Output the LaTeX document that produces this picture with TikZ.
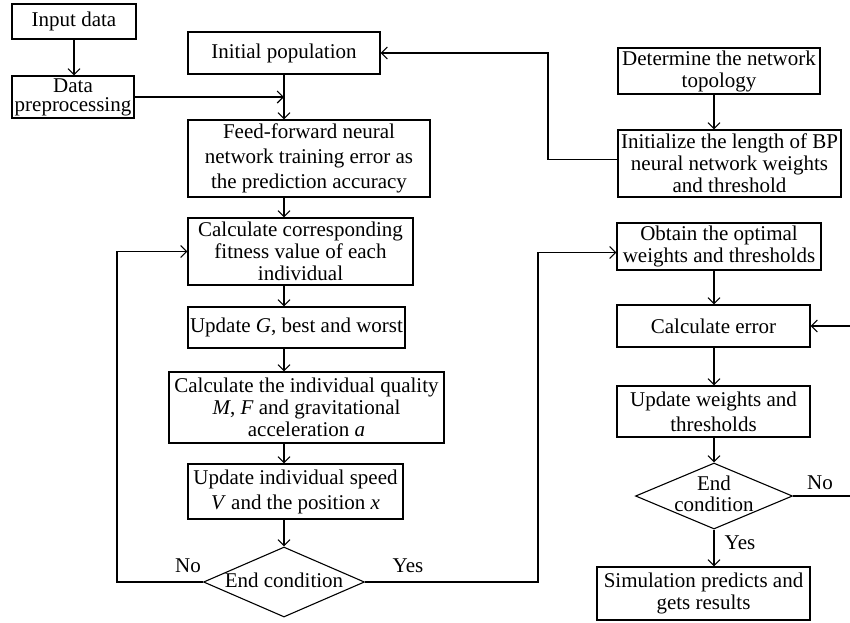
\documentclass[tikz,border=0pt]{standalone}
\usepackage{fontspec}
\setmainfont{Liberation Serif}
\usetikzlibrary{arrows.meta,shapes.geometric}
\begin{document}
\begin{tikzpicture}[x=1pt,y=-1pt,
  font=\fontsize{21}{22}\selectfont,
  line width=1.1pt,
  box/.style={draw, rectangle, inner sep=0pt, align=center},
  dia/.style={draw, diamond, inner sep=0pt},
  arr/.style={-{Straight Barb[length=6pt,width=12pt,line width=1.1pt]}},
  lbl/.style={inner sep=0pt}]
\useasboundingbox (0,0) rectangle (850,622);
% left column
\node[box, minimum width=124, minimum height=35] (in) at (74,21.5) {Input data};
\node[box, minimum width=122, minimum height=42, font=\fontsize{21}{19}\selectfont] (pre) at (73,97) {Data\\preprocessing};
\node[box, minimum width=192, minimum height=42] (ip) at (284,53) {Initial population};
\node[box, minimum width=242, minimum height=77, font=\fontsize{21}{25}\selectfont] (ff) at (309,158.5) {Feed-forward neural\\network training error as\\the prediction accuracy};
\node[box, minimum width=225, minimum height=67] (cf) at (300.5,251.5) {Calculate corresponding\\fitness value of each\\individual};
\node[box, minimum width=217, minimum height=41] (ug) at (296.5,327.5) {Update \textit{G}, best and worst};
\node[box, minimum width=275, minimum height=71] (cq) at (306.5,407.5) {Calculate the individual quality\\\textit{M}, \textit{F} and gravitational\\acceleration \textit{a}};
\node[box, minimum width=215, minimum height=55, font=\fontsize{21}{25}\selectfont] (us) at (295.5,491.5) {Update individual speed\\\textit{V} and the position \textit{x}};
\node[dia, minimum width=161, minimum height=70] (d1) at (284,582) {};
\node[lbl] at (284,580) {End condition};
% right column
\node[box, minimum width=202, minimum height=46] (dt) at (719,71) {Determine the network\\topology};
\node[box, minimum width=223, minimum height=67] (il) at (729.5,163.5) {Initialize the length of BP\\neural network weights\\and threshold};
\node[box, minimum width=204, minimum height=47] (ob) at (719,246.5) {Obtain the optimal\\weights and thresholds};
\node[box, minimum width=193, minimum height=42] (ce) at (713.5,326) {Calculate error};
\node[box, minimum width=193, minimum height=51, font=\fontsize{21}{25}\selectfont] (uw) at (713.5,411.5) {Update weights and\\thresholds};
\node[dia, minimum width=157, minimum height=66] (d2) at (714,496) {};
\node[lbl, align=center, font=\fontsize{21}{21}\selectfont] at (714,494) {End\\condition};
\node[box, minimum width=213, minimum height=53] (sim) at (703.5,593.5) {Simulation predicts and\\gets results};
% labels
\node[lbl] at (188,566) {No};
\node[lbl] at (408,566) {Yes};
\node[lbl] at (820,483) {No};
\node[lbl] at (740,543) {Yes};
% helper coordinates
\coordinate (lx) at (117,0);
\coordinate (yx) at (538,0);
\coordinate (rx) at (548,0);
\coordinate (ex) at (856,0);
% connectors
\draw[arr] (in.south) -- (in.south |- pre.north);
\draw[arr] (pre.east) -- (pre.east -| ip.south);
\draw[arr] (ip.south) -- (ff.north -| ip.south);
\draw[arr] (ff.south -| ip.south) -- (cf.north -| ip.south);
\draw[arr] (cf.south -| ip.south) -- (ug.north -| ip.south);
\draw[arr] (ug.south -| ip.south) -- (cq.north -| ip.south);
\draw[arr] (cq.south -| ip.south) -- (us.north -| ip.south);
\draw[arr] (us.south -| d1.north) -- (d1.north);
\draw[arr] (d1.west) -- (d1.west -| lx) |- (cf.west);
\draw[arr] (d1.east) -- (d1.east -| yx) |- ([yshift=-6pt]ob.west);
\draw[arr] ([yshift=4pt]il.west) -| (rx |- ip.east) -- (ip.east);
\draw[arr] (dt.south -| d2.center) -- (il.north -| d2.center);
\draw[arr] (ob.south -| d2.center) -- (ce.north -| d2.center);
\draw[arr] (ce.south -| d2.center) -- (uw.north -| d2.center);
\draw[arr] (uw.south -| d2.center) -- (d2.north);
\draw[arr] (d2.south) -- (sim.north -| d2.south);
\draw[arr] (d2.east) -- (d2.east -| ex) |- (ce.east);
\end{tikzpicture}
\end{document}
